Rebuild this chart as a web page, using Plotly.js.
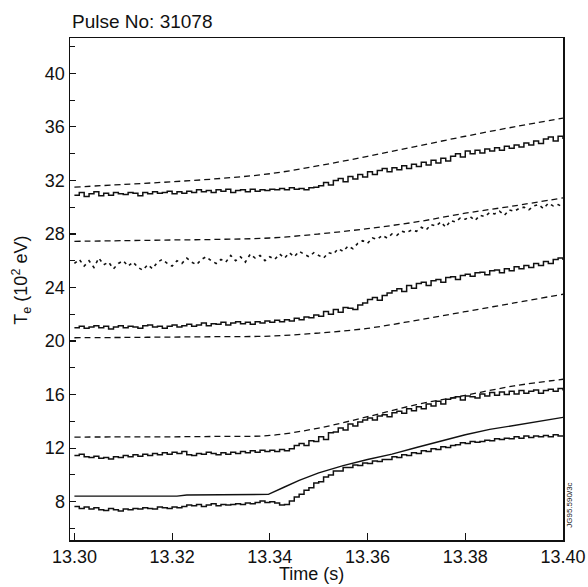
<!DOCTYPE html>
<html>
<head>
<meta charset="utf-8">
<script src="https://cdn.plot.ly/plotly-3.0.1.min.js"></script>
<style>html,body{margin:0;padding:0;background:#fff;}#chart{width:588px;height:587px;}</style>
</head>
<body>
<div id="chart"></div>
<script>
// ---- Data ----
const timeNoisy = [13.300,13.301,13.302,13.303,13.304,13.305,13.306,13.307,13.308,13.309,
13.310,13.311,13.312,13.313,13.314,13.315,13.316,13.317,13.318,13.319,
13.320,13.321,13.322,13.323,13.324,13.325,13.326,13.327,13.328,13.329,
13.330,13.331,13.332,13.333,13.334,13.335,13.336,13.337,13.338,13.339,
13.340,13.341,13.342,13.343,13.344,13.345,13.346,13.347,13.348,13.349,
13.350,13.351,13.352,13.353,13.354,13.355,13.356,13.357,13.358,13.359,
13.360,13.361,13.362,13.363,13.364,13.365,13.366,13.367,13.368,13.369,
13.370,13.371,13.372,13.373,13.374,13.375,13.376,13.377,13.378,13.379,
13.380,13.381,13.382,13.383,13.384,13.385,13.386,13.387,13.388,13.389,
13.390,13.391,13.392,13.393,13.394,13.395,13.396,13.397,13.398,13.399,
13.400];

// measured (noisy) profiles
const measTop = [30.9,31.1,30.8,31.0,31.15,30.85,31.05,30.9,31.1,31.0,
30.95,31.1,31.05,30.85,31.1,31.0,31.15,31.05,31.1,31.2,
31.0,31.15,31.05,31.2,31.1,31.3,31.15,31.25,31.1,31.3,
31.2,31.35,31.1,31.25,31.3,31.15,31.35,31.2,31.3,31.25,
31.35,31.3,31.4,31.3,31.45,31.35,31.4,31.3,31.45,31.5,
31.6,31.85,31.65,32.0,32.15,31.9,32.3,32.1,32.45,32.25,
32.65,32.45,32.75,32.9,32.65,32.95,32.8,33.1,32.9,33.2,
33.05,33.35,33.15,33.5,33.3,33.65,33.45,33.8,34.0,33.75,
34.2,34.0,34.25,34.05,34.35,34.2,34.45,34.25,34.55,34.4,
34.65,34.5,34.8,34.65,34.95,34.75,35.1,35.25,34.95,35.3,
35.1];

const measDotted = [25.8,26.1,25.6,26.0,25.5,26.2,25.7,25.9,25.4,25.8,
26.0,25.6,25.9,25.5,25.3,25.7,25.4,25.9,26.1,25.8,
25.6,26.0,25.8,26.2,25.9,25.7,26.1,26.3,26.0,25.8,
26.1,25.9,26.4,26.0,26.3,25.9,26.5,26.2,26.4,26.0,
26.3,26.1,26.5,26.2,26.6,26.3,26.7,26.5,26.3,26.6,
26.4,26.2,26.6,26.5,26.9,26.7,27.1,26.9,27.3,27.5,
27.3,27.7,27.6,27.9,27.7,28.0,27.9,28.2,28.1,28.3,
28.2,28.5,28.3,28.7,28.6,28.9,28.5,29.0,28.9,29.2,
29.1,29.3,29.0,29.4,29.3,29.6,29.5,29.7,29.4,29.8,
29.7,29.9,30.0,29.8,30.1,30.2,29.9,30.3,30.1,30.2,
30.0];

const measThird = [21.0,21.1,20.95,21.05,21.15,21.0,21.1,20.9,21.05,21.15,
21.0,21.1,21.05,20.95,21.15,21.2,21.05,21.1,20.95,21.1,
21.2,21.05,21.15,21.25,21.1,21.2,21.35,21.15,21.3,21.25,
21.4,21.2,21.35,21.45,21.3,21.4,21.25,21.45,21.35,21.5,
21.4,21.55,21.45,21.6,21.5,21.7,21.6,21.8,21.75,21.95,
21.85,22.2,22.0,22.35,22.15,22.5,22.45,22.35,22.7,22.85,
23.1,23.25,23.05,23.4,23.6,23.75,23.9,23.7,24.15,23.95,
24.3,24.4,24.15,24.5,24.6,24.4,24.75,24.8,24.6,24.9,
25.0,24.85,25.1,25.15,24.95,25.25,25.3,25.1,25.4,25.25,
25.55,25.4,25.65,25.5,25.8,25.65,25.95,25.8,26.1,26.2,
26.05];

const measFourth = [11.45,11.55,11.35,11.3,11.4,11.25,11.3,11.2,11.35,11.3,
11.45,11.35,11.5,11.4,11.55,11.45,11.6,11.5,11.65,11.55,
11.7,11.6,11.75,11.5,11.45,11.6,11.55,11.7,11.6,11.5,
11.65,11.55,11.7,11.6,11.75,11.65,11.8,11.7,11.85,11.75,
11.85,11.75,11.9,11.8,11.95,12.2,12.35,12.2,12.55,12.5,
12.85,12.65,13.15,13.2,13.5,13.35,13.8,13.65,13.95,14.1,
14.25,14.1,14.4,14.5,14.35,14.65,14.75,14.6,14.95,14.8,
15.1,14.95,15.3,15.15,15.5,15.3,15.65,15.75,15.85,15.6,
15.9,15.85,15.75,16.05,15.9,16.15,15.95,16.2,16.0,16.25,
16.05,16.3,16.1,16.25,16.35,16.1,16.3,16.4,16.25,16.45,
16.3];

const measBottom = [7.65,7.5,7.6,7.45,7.55,7.4,7.35,7.5,7.4,7.3,
7.45,7.4,7.5,7.45,7.55,7.5,7.45,7.6,7.55,7.5,
7.6,7.55,7.65,7.75,7.7,7.8,7.65,7.75,7.85,7.7,
7.8,7.75,7.8,7.85,7.8,7.9,7.85,7.95,8.05,7.95,
8.0,7.9,7.75,7.8,8.05,8.35,8.55,8.85,9.05,9.4,
9.5,9.85,10.0,10.3,10.3,10.55,10.55,10.75,10.7,10.9,
10.85,11.05,11.0,11.15,11.15,11.35,11.3,11.5,11.45,11.65,
11.6,11.8,11.75,11.95,11.9,12.1,12.05,12.2,12.25,12.4,
12.35,12.5,12.45,12.5,12.6,12.55,12.7,12.65,12.75,12.7,
12.85,12.75,12.9,12.8,12.9,12.85,12.95,12.85,13.0,12.9,
12.95];

// simulated (smooth, dashed) profiles
const timeSmooth = [13.30,13.31,13.32,13.33,13.34,13.35,13.36,13.37,13.38,13.39,13.40];
const simTop    = [31.5,31.7,31.9,32.15,32.5,33.1,33.8,34.55,35.3,36.0,36.65];
const simSecond = [27.45,27.5,27.55,27.6,27.7,28.0,28.4,28.9,29.55,30.1,30.7];
const simThird  = [20.25,20.27,20.3,20.33,20.37,20.6,20.95,21.55,22.2,22.85,23.5];
const simFourth = [12.83,12.84,12.85,12.88,12.95,13.5,14.35,15.25,15.95,16.65,17.15];

// model (solid smooth) profile
const timeModel = [13.300,13.321,13.323,13.3397,13.343,13.346,13.350,13.355,13.360,13.365,13.370,13.375,13.380,13.385,13.390,13.395,13.400];
const modelVals = [8.42,8.42,8.5,8.55,9.1,9.6,10.15,10.7,11.15,11.55,12.05,12.55,13.0,13.4,13.7,14.0,14.3];

// axis ticks
const xTickVals = [13.30,13.32,13.34,13.36,13.38,13.40];
const xTickText = ["13.30","13.32","13.34","13.36","13.38","13.40"];
const yTickVals = [8,12,16,20,24,28,32,36,40];
const yTickText = ["8","12","16","20","24","28","32","36","40"];

// ---- Traces ----
const FONT = "Liberation Sans, Arial, Helvetica, sans-serif";
const solidNoisy = {color:"#111", width:1.5, shape:"hv"};
const dashedLine = {color:"#111", width:1.3, dash:"6px,4px", shape:"spline"};

const traces = [
  {x: timeSmooth, y: simTop, mode:"lines", line: dashedLine},
  {x: timeNoisy, y: measTop, mode:"lines", line: solidNoisy},
  {x: timeSmooth, y: simSecond, mode:"lines", line: dashedLine},
  {x: timeNoisy, y: measDotted, mode:"lines", line:{color:"#111", width:1.6, dash:"3px,4px"}},
  {x: timeNoisy, y: measThird, mode:"lines", line: solidNoisy},
  {x: timeSmooth, y: simThird, mode:"lines", line: dashedLine},
  {x: timeSmooth, y: simFourth, mode:"lines", line: dashedLine},
  {x: timeNoisy, y: measFourth, mode:"lines", line: solidNoisy},
  {x: timeModel, y: modelVals, mode:"lines", line:{color:"#111", width:1.4}},
  {x: timeNoisy, y: measBottom, mode:"lines", line: solidNoisy}
];

const layout = {
  width: 588, height: 587,
  margin: {l:70, r:25, t:38, b:47},
  paper_bgcolor: "#fff", plot_bgcolor: "#fff",
  showlegend: false,
  font: {family: FONT, color: "#111", size: 18},
  title: {text: "Pulse No: 31078", x: 72/588, xref: "container", xanchor: "left",
          y: 1 - 21/587, yref: "container", yanchor: "middle",
          font: {family: FONT, size: 19, color: "#111"}},
  xaxis: {
    range: [13.2991, 13.40],
    tickvals: xTickVals, ticktext: xTickText,
    ticks: "inside", ticklen: 7, tickwidth: 1.2, tickcolor: "#111",
    showline: true, linecolor: "#111", linewidth: 1.5, mirror: true,
    showgrid: false, zeroline: false,
    tickfont: {family: FONT, size: 18, color: "#111"}
  },
  yaxis: {
    range: [5.14, 42.64],
    tickvals: yTickVals, ticktext: yTickText,
    ticks: "inside", ticklen: 6, tickwidth: 1.2, tickcolor: "#111",
    minor: {dtick: 2, tick0: 0, ticks: "inside", ticklen: 5, tickwidth: 1, tickcolor: "#111"},
    showline: true, linecolor: "#111", linewidth: 1.5, mirror: true,
    showgrid: false, zeroline: false,
    tickfont: {family: FONT, size: 18, color: "#111"}
  },
  annotations: [
    {text: "Time (s)", xref: "paper", yref: "paper", x: 0.49, y: -0.067,
     showarrow: false, font: {family: FONT, size: 18, color: "#111"},
     xanchor: "center", yanchor: "middle"},
    {text: "T<sub>e</sub> (10<sup>2</sup> eV)", xref: "paper", yref: "paper", x: -0.098, y: 0.518,
     textangle: -90, showarrow: false, font: {family: FONT, size: 18, color: "#111"},
     xanchor: "center", yanchor: "middle"},
    {text: "JG95.590/3c", xref: "paper", yref: "paper", x: 1.014, y: 0.07,
     textangle: -90, showarrow: false, font: {family: FONT, size: 8, color: "#111"},
     xanchor: "center", yanchor: "middle"}
  ]
};

Plotly.newPlot("chart", traces, layout, {displayModeBar: false, staticPlot: true});
</script>
</body>
</html>
